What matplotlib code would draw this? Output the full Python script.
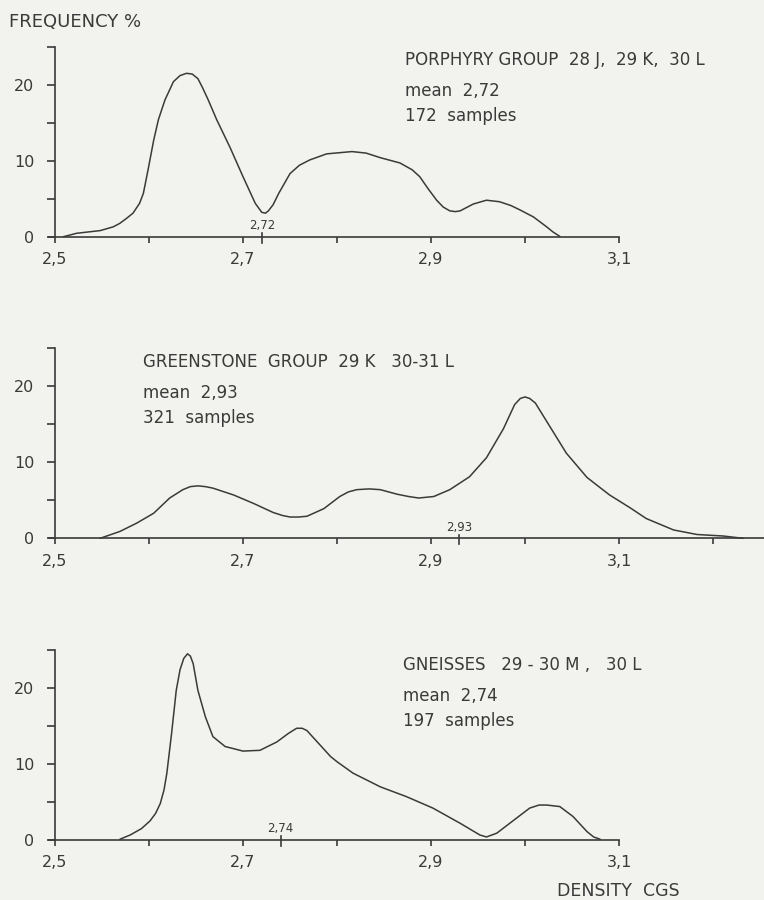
import matplotlib
matplotlib.use("Agg")
import matplotlib.pyplot as plt
from matplotlib.ticker import FixedLocator, FuncFormatter

# ---------------- data ----------------
porphyry_x = [2.509, 2.523, 2.548, 2.562, 2.569, 2.576, 2.583, 2.590, 2.594, 2.599, 2.605, 2.610,
              2.617, 2.626, 2.633, 2.640, 2.646, 2.652, 2.657, 2.663, 2.672, 2.686, 2.700, 2.713,
              2.720, 2.724, 2.727, 2.732, 2.738, 2.750, 2.760, 2.771, 2.789, 2.816, 2.831, 2.846,
              2.867, 2.880, 2.888, 2.897, 2.906, 2.913, 2.920, 2.926, 2.931, 2.945, 2.959, 2.973,
              2.985, 2.995, 3.009, 3.023, 3.030, 3.037]
porphyry_y = [0.0, 0.45, 0.8, 1.3, 1.76, 2.4, 3.1, 4.4, 5.7, 8.8, 12.7, 15.4,
              18.0, 20.4, 21.2, 21.5, 21.4, 20.8, 19.6, 18.0, 15.4, 11.8, 7.9, 4.4,
              3.2, 3.1, 3.4, 4.2, 5.7, 8.3, 9.4, 10.1, 10.9, 11.2, 11.0, 10.4,
              9.7, 8.8, 7.9, 6.3, 4.8, 3.9, 3.4, 3.3, 3.4, 4.3, 4.8, 4.6,
              4.1, 3.5, 2.6, 1.3, 0.6, 0.05]

green_x = [2.548, 2.569, 2.587, 2.605, 2.622, 2.636, 2.644, 2.652, 2.660, 2.668, 2.690, 2.711,
           2.732, 2.742, 2.750, 2.759, 2.768, 2.786, 2.803, 2.812, 2.821, 2.834, 2.846, 2.864,
           2.876, 2.887, 2.903, 2.920, 2.941, 2.959, 2.977, 2.989, 2.995, 3.000, 3.005, 3.011,
           3.027, 3.044, 3.066, 3.090, 3.112, 3.129, 3.158, 3.183, 3.211, 3.232]
green_y = [0.0, 0.9, 2.0, 3.3, 5.3, 6.4, 6.8, 6.9, 6.8, 6.6, 5.7, 4.6,
           3.4, 3.0, 2.8, 2.8, 2.9, 3.9, 5.5, 6.1, 6.4, 6.5, 6.4, 5.8,
           5.5, 5.3, 5.5, 6.4, 8.1, 10.6, 14.4, 17.6, 18.4, 18.6, 18.4, 17.8,
           14.6, 11.2, 8.0, 5.7, 4.0, 2.6, 1.1, 0.5, 0.3, 0.0]

gneiss_x = [2.569, 2.580, 2.592, 2.601, 2.607, 2.612, 2.616, 2.619, 2.624, 2.629, 2.633, 2.637,
            2.641, 2.644, 2.647, 2.652, 2.660, 2.668, 2.681, 2.700, 2.718, 2.736, 2.748, 2.757,
            2.763, 2.768, 2.782, 2.793, 2.800, 2.817, 2.846, 2.874, 2.902, 2.931, 2.952, 2.959,
            2.970, 2.988, 3.005, 3.015, 3.023, 3.037, 3.051, 3.066, 3.073, 3.080]
gneiss_y = [0.1, 0.66, 1.5, 2.5, 3.5, 4.8, 6.6, 8.8, 14.0, 19.7, 22.4, 23.9,
            24.5, 24.2, 23.2, 19.7, 16.2, 13.6, 12.3, 11.7, 11.8, 12.9, 14.0, 14.7,
            14.7, 14.4, 12.5, 11.0, 10.3, 8.8, 7.0, 5.7, 4.2, 2.2, 0.66, 0.4,
            0.9, 2.6, 4.2, 4.6, 4.6, 4.4, 3.1, 1.1, 0.4, 0.1]

titles = ["PORPHYRY GROUP  28 J,  29 K,  30 L",
          "GREENSTONE  GROUP  29 K   30-31 L",
          "GNEISSES   29 - 30 M ,   30 L"]
means = [2.72, 2.93, 2.74]
mean_labels = ["2,72", "2,93", "2,74"]
samples = [172, 321, 197]
x_major = [2.5, 2.7, 2.9, 3.1]
x_minor_1 = [2.6, 2.8, 3.0]
x_minor_2 = [2.6, 2.8, 3.0, 3.2]
y_major = [0, 10, 20]
y_minor = [5, 15, 25]

# ---------------- layout ----------------
W, H = 764, 900
BG = "#f2f2ee"
INK = "#3a3a3a"
plt.rcParams['font.family'] = ['DejaVu Sans']

fig = plt.figure(figsize=(W / 100, H / 100), dpi=100, facecolor=BG)

XPX0, XSCALE = 55.0, 940.0   # px of x=2.5, px per unit
YSCALE = 7.6                 # px per %

def make_axes(y0_px, xmax):
    xmin, ymin, ymax = 2.47, -1.5, 26.5
    left = XPX0 + (xmin - 2.5) * XSCALE
    right = XPX0 + (xmax - 2.5) * XSCALE
    bottom = y0_px - ymin * YSCALE
    top = y0_px - ymax * YSCALE
    ax = fig.add_axes([left / W, 1 - bottom / H, (right - left) / W, (bottom - top) / H])
    ax.set_xlim(xmin, xmax)
    ax.set_ylim(ymin, ymax)
    ax.patch.set_alpha(0)
    return ax

panels = [
    (236.7, 3.12, 3.1, porphyry_x, porphyry_y, x_minor_1, (405, 60)),
    (538.3, 3.254, 3.254, green_x, green_y, x_minor_2, (143, 362)),
    (840.0, 3.12, 3.1, gneiss_x, gneiss_y, x_minor_1, (403, 665)),
]

fmt = FuncFormatter(lambda v, p: f"{v:.1f}".replace(".", ","))

for i, (y0, xmax, xend, xs, ys, xminor, (tx, ty)) in enumerate(panels):
    ax = make_axes(y0, xmax)
    ax.plot(xs, ys, color=INK, lw=1.1, solid_joinstyle='round', solid_capstyle='round',
            clip_on=False)
    for s in ["top", "right"]:
        ax.spines[s].set_visible(False)
    ax.spines["bottom"].set_position(("data", 0))
    ax.spines["left"].set_position(("data", 2.5))
    ax.spines["bottom"].set_bounds(2.494, xend)
    ax.spines["left"].set_bounds(0, 25)
    for s in ["bottom", "left"]:
        ax.spines[s].set_color(INK)
        ax.spines[s].set_linewidth(1.2)
    ax.xaxis.set_major_locator(FixedLocator(x_major))
    ax.xaxis.set_minor_locator(FixedLocator(xminor))
    ax.xaxis.set_major_formatter(fmt)
    ax.yaxis.set_major_locator(FixedLocator(y_major))
    ax.yaxis.set_minor_locator(FixedLocator(y_minor))
    ax.tick_params(axis='both', which='both', direction='out', width=1.2,
                   color=INK, labelcolor=INK, labelsize=11.5)
    ax.tick_params(axis='x', which='both', length=4.5)
    ax.tick_params(axis='x', which='major', pad=6.5)
    ax.tick_params(axis='y', which='both', length=5.8)
    ax.tick_params(axis='y', which='major', pad=9)
    # mean marker
    ax.plot([means[i], means[i]], [-0.8, 0.5], color=INK, lw=1.2, clip_on=False)
    ax.text(means[i], 0.6, mean_labels[i], ha='center', va='bottom', fontsize=8.5, color=INK)
    # annotation text (figure pixel coordinates)
    fig.text(tx / W, 1 - ty / H, titles[i], ha='left', va='center', fontsize=12, color=INK)
    fig.text(tx / W, 1 - (ty + 31) / H, f"mean  {mean_labels[i]}", ha='left', va='center',
             fontsize=12, color=INK)
    fig.text(tx / W, 1 - (ty + 56) / H, f"{samples[i]}  samples", ha='left', va='center',
             fontsize=12, color=INK)

fig.text(9 / W, 1 - 22 / H, "FREQUENCY %", ha='left', va='center', fontsize=13, color=INK)
fig.text(680 / W, 1 - 891 / H, "DENSITY  CGS", ha='right', va='center', fontsize=12.5, color=INK)

fig.savefig("out.png", dpi=100, facecolor=BG)
